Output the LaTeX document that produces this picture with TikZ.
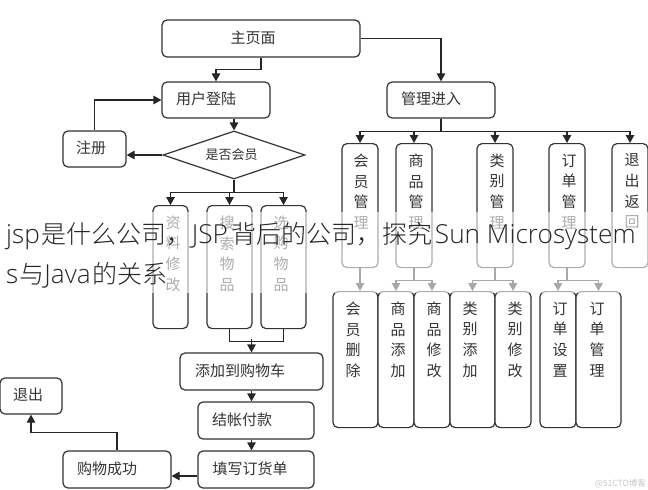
\documentclass[tikz,border=0pt]{standalone}
\usepackage{fontspec}
\setmainfont{Noto Sans CJK SC}
\newfontfamily\latinfont{Open Sans Light}
\newfontfamily\titlefont{Noto Sans CJK SC Light}
\usepackage{xcolor}
\usetikzlibrary{arrows.meta,shapes.geometric}
\definecolor{inkc}{HTML}{333333}
\newcommand{\latintxt}[1]{{\latinfont\fontsize{26.2}{25}\selectfont #1}}
\tikzset{
  box/.style={draw=inkc,line width=1.2pt,rounded corners=5pt,inner sep=0pt,fill=white},
  boxtxt/.style={text=inkc,font=\fontsize{15}{20.7}\selectfont,align=center,inner sep=0pt},
  arr/.style={draw=black!85,line width=1.2pt,-{Triangle[length=8pt,width=8.5pt]}},
  lnk/.style={draw=black!85,line width=1.2pt},
  titletxt/.style={anchor=base west,inner sep=0pt,text=black!85,font=\titlefont\fontsize{25}{25}\selectfont}
}
\begin{document}
\begin{tikzpicture}[x=1pt,y=-1pt]
    \useasboundingbox (0,0) rectangle (648,490);
    % Flat boxes: name/centre x/centre y/width/height/text shift/text
    \foreach \nm/\cx/\cy/\cw/\ch/\dx/\txt in {
      home/261/38.5/198/37/-8/主页面,
      login/216/100/108/36/-10/用户登陆,
      register/94.5/149/63/36/-3.5/注册,
      admin/441/100/108/36/-10/管理进入,
      cart/251.5/371.5/143/37/-11.5/添加到购物车,
      pay/256/420.5/116/37/-14/结帐付款,
      order/256/469.5/116/37/-6/填写订货单,
      success/117/469.5/108/37/-10/购物成功,
      exit/31/396/62/36/-3/退出} {
      \node[box,minimum width=\cw,minimum height=\ch,label={[boxtxt,xshift=\dx,yshift=1]center:{\txt}}] (\nm) at (\cx,\cy) {};
    }
    \node[draw=inkc,line width=1.2pt,diamond,aspect=2.95,inner sep=0pt,minimum width=142,minimum height=48,
      fill=white,font=\fontsize{13}{14}\selectfont,text=inkc] (member) at (234,155) {\hspace*{-5pt}是否会员};
    % Tall boxes: name/centre x/top/width/height/text shift/text
    \foreach \nm/\cx/\cy/\cw/\ch/\dx/\txt in {
      info/170.5/205/35/123/2.5/资\\料\\修\\改,
      search/229.5/205/45/123/-2.5/搜\\索\\物\\品,
      buy/283.5/205/45/123/-2.5/选\\购\\物\\品,
      mem/360/143/36/124/1/会\\员\\管\\理,
      goods/414/143/36/124/2/商\\品\\管\\理,
      cat/495/143/36/124/2/类\\别\\管\\理,
      ord/567/143/36/124/2/订\\单\\管\\理,
      quit/630/143/36/124/2/退\\出\\返\\回,
      delmem/355.5/291/45/136/-2.5/会\\员\\删\\除,
      gadd/396/291/36/136/2/商\\品\\添\\加,
      gedit/432/291/36/136/2/商\\品\\修\\改,
      cadd/472.5/291/45/136/-2.5/类\\别\\添\\加,
      cedit/513/291/36/136/2/类\\别\\修\\改,
      oset/558/291/36/136/2/订\\单\\设\\置,
      oman/598.5/291/45/136/-1.5/订\\单\\管\\理} {
      \node[box,anchor=north,minimum width=\cw,minimum height=\ch,
        label={[boxtxt,anchor=north,xshift=\dx,yshift=-10.5]north:{\txt}}] (\nm) at (\cx,\cy) {};
    }
    % Left branch
    \draw[arr] (home.south) -- ++(0,12) -| (login.north);
    \draw[arr] (home.east) -| (admin.north);
    \draw[arr] (register.north) |- (login.west);
    \draw[arr] (login.south -| member.north) -- (member.north);
    \draw[arr] (member.west) -- (member.west -| register.east);
    \foreach \nm in {info,search,buy} {\draw[arr] (member.south) -- ++(0,13) -| (\nm.north);}
    \draw[lnk] (search.south) -- ++(0,12) -| (buy.south);
    \draw[arr] ([yshift=13]cart.north) -- (cart.north);
    \draw[arr] (cart.south) -- (cart.south |- pay.north);
    \draw[arr] (cart.south |- pay.south) -- (cart.south |- order.north);
    \draw[arr] ([yshift=-6.5]order.west) -- ([yshift=-6.5]order.west -| success.east);
    \draw[arr] (success.north) -- ++(0,-18) -| (exit.south);
    % Right branch
    \foreach \nm in {mem,goods,cat,ord,quit} {\draw[arr] (admin.south) -- ++(0,13) -| (\nm.north);}
    \draw[arr] (mem.south) -- (mem.south |- delmem.north);
    \foreach \from/\to in {goods/gadd,goods/gedit,cat/cadd,cat/cedit,ord/oset,ord/oman} {
      \draw[arr] (\from.south) -- ++(0,12) -| (\to.north);
    }
    % Faded band and title
    \fill[white,opacity=.6] (0,212) rectangle (648,293);
    \node[titletxt] (titleone) at (6,243) {\latintxt{jsp}\hspace{2pt}是什么公司，\latintxt{JSP}\hspace{4pt}背后的公司，\hspace{1pt}探究\hspace{2pt}\latintxt{Sun Microsystem}};
    \node[titletxt] (titletwo) at (6,283) {\latintxt{s}\hspace{1pt}与\latintxt{Java}\hspace{2pt}的关系};
    \node[anchor=east,inner sep=0pt,text=black!22,font=\fontsize{8.5}{9}\selectfont] (mark) at (646,484) {@51CTO博客};
\end{tikzpicture}
\end{document}
